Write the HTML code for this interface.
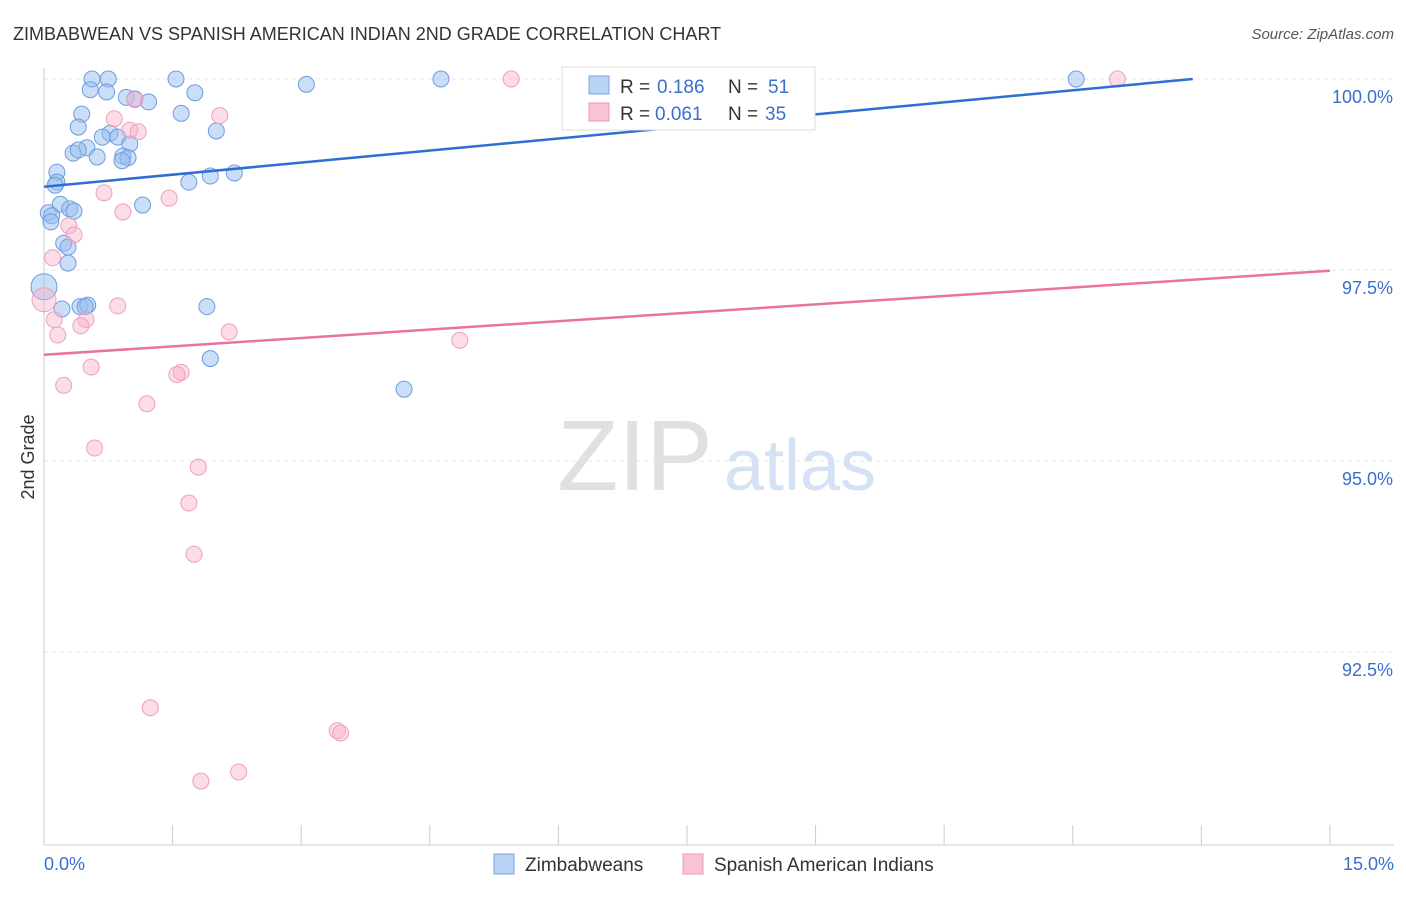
<!DOCTYPE html>
<html><head><meta charset="utf-8"><style>
body{margin:0;background:#fff;font-family:"Liberation Sans",sans-serif;}
svg text{font-family:"Liberation Sans",sans-serif;}
</style></head><body>
<svg id="c" width="1406" height="892" xmlns="http://www.w3.org/2000/svg">
<text x="13" y="40" font-size="18" fill="#333">ZIMBABWEAN VS SPANISH AMERICAN INDIAN 2ND GRADE CORRELATION CHART</text>
<text x="1394" y="39" font-size="15" fill="#555" text-anchor="end" font-style="italic">Source: ZipAtlas.com</text>
<text x="635" y="490" font-size="100" fill="#e0e0e0" font-family="Liberation Serif" text-anchor="middle">ZIP</text>
<text x="800" y="490" font-size="72" fill="#d4e2f4" text-anchor="middle">atlas</text>
<g id="grid"></g><g id="axes"></g><g id="pts"></g><g id="trend"></g>
<text x="34" y="457" font-size="18" fill="#333" text-anchor="middle" transform="rotate(-90 34 457)">2nd Grade</text>
<g>
<rect x="562" y="67" width="253" height="63" fill="#fff" stroke="#ddd"/>
<rect x="589" y="76" width="20" height="18" fill="#b9d3f5" stroke="#7aa6e2"/>
<rect x="589" y="103" width="20" height="18" fill="#f9c3d3" stroke="#ec9ab5"/>
<text x="620" y="93" font-size="19" fill="#333">R =</text>
<text x="657" y="93" font-size="19" fill="#3a6fd0">0.186</text>
<text x="728" y="93" font-size="19" fill="#333">N =</text>
<text x="768" y="93" font-size="19" fill="#3a6fd0">51</text>
<text x="620" y="120" font-size="19" fill="#333">R =</text>
<text x="655" y="120" font-size="19" fill="#3a6fd0">0.061</text>
<text x="728" y="120" font-size="19" fill="#333">N =</text>
<text x="765" y="120" font-size="19" fill="#3a6fd0">35</text>
</g>
<g>
<rect x="494" y="854" width="20" height="20" fill="#b9d3f5" stroke="#7aa6e2"/>
<text x="525" y="871" font-size="19" fill="#333">Zimbabweans</text>
<rect x="683" y="854" width="20" height="20" fill="#f9c3d3" stroke="#ec9ab5"/>
<text x="714" y="871" font-size="19" fill="#333">Spanish American Indians</text>
</g>
</svg>
<script>
const blueX=[0.56,0.75,1.54,3.06,4.63,12.04,0.54,0.73,1.76,0.96,1.06,1.22,0.44,1.60,0.40,2.01,0.77,0.68,0.86,1.00,0.50,0.34,0.40,0.62,0.92,0.98,0.91,0.15,2.22,1.94,0.15,0.13,1.69,1.15,0.19,0.30,0.35,0.05,0.09,0.08,0.23,0.28,0.28,0.0,0.21,0.42,0.51,1.90,1.94,4.20,0.48];
const blueY=[100,100,100,99.93,100,100,99.86,99.83,99.82,99.76,99.74,99.70,99.54,99.55,99.37,99.32,99.29,99.24,99.24,99.15,99.10,99.03,99.07,98.98,98.99,98.97,98.93,98.78,98.77,98.73,98.65,98.61,98.65,98.35,98.36,98.30,98.27,98.25,98.21,98.13,97.85,97.80,97.59,97.28,96.99,97.02,97.04,97.02,96.34,95.94,97.02];
const pinkX=[5.45,12.52,1.06,2.05,0.82,1.00,1.10,0.70,1.46,0.92,0.29,0.35,0.10,0,0.12,0.86,0.49,0.43,0.16,2.16,4.85,0.55,1.60,1.55,0.23,1.20,0.59,1.80,1.69,1.75,1.24,3.42,3.46,2.27,1.83];
const pinkY=[100,100,99.73,99.52,99.48,99.33,99.31,98.51,98.44,98.26,98.08,97.96,97.66,97.11,96.85,97.03,96.85,96.77,96.65,96.69,96.58,96.23,96.16,96.13,95.99,95.75,95.17,94.92,94.45,93.78,91.77,91.47,91.44,90.93,90.81];
const blueTrend=[[0,98.59],[13.4,100]];
const pinkTrend=[[0,96.39],[15,97.49]];
const yTicks=[100,97.5,95,92.5];
const yTickLabels=["100.0%","97.5%","95.0%","92.5%"];
const xTicks=[0,1.5,3,4.5,6,7.5,9,10.5,12,13.5,15];
const sx=v=>44+v*85.73, sy=v=>79+(100-v)*76.4;
const NS="http://www.w3.org/2000/svg";
function mk(p,t,a){const e=document.createElementNS(NS,t);for(const k in a)e.setAttribute(k,a[k]);document.getElementById(p).appendChild(e);return e;}
yTicks.forEach((v,i)=>{
 const l=mk('grid','line',{x1:44,x2:1394,y1:sy(v),y2:sy(v),stroke:'#e4e4e4','stroke-dasharray':'4,4'});
 
 
 const t=mk('grid','text',{x:1393,y:sy(v)+24,'font-size':18,fill:'#3a6fd0','text-anchor':'end'});t.textContent=yTickLabels[i];
 
 
});
const ax=mk('axes','line',{x1:44,x2:44,y1:68,y2:845,stroke:'#ccc'});


const bx=mk('axes','line',{x1:44,x2:1394,y1:845,y2:845,stroke:'#ccc'});


xTicks.forEach(v=>{const t=mk('axes','line',{x1:sx(v),x2:sx(v),y1:825,y2:845,stroke:'#ccc'});
 
 });
const x0=mk('axes','text',{x:44,y:870,'font-size':18,fill:'#3a6fd0'});x0.textContent='0.0%';


const x1=mk('axes','text',{x:1394,y:870,'font-size':18,fill:'#3a6fd0','text-anchor':'end'});x1.textContent='15.0%';


blueX.forEach((x,i)=>{const c=mk('pts','circle',{cx:sx(x),cy:sy(blueY[i]),r:(x===0?13:8),fill:'rgba(150,190,240,0.5)',stroke:'#6d9de0','stroke-width':1});
 
 });
pinkX.forEach((x,i)=>{const c=mk('pts','circle',{cx:sx(x),cy:sy(pinkY[i]),r:(x===0?12:8),fill:'rgba(248,180,202,0.45)',stroke:'#eea0ba','stroke-width':1});
 
 });
const bt=mk('trend','line',{x1:sx(blueTrend[0][0]),y1:sy(blueTrend[0][1]),x2:sx(blueTrend[1][0]),y2:sy(blueTrend[1][1]),stroke:'#2f6fd3','stroke-width':2.5});


const pt=mk('trend','line',{x1:sx(pinkTrend[0][0]),y1:sy(pinkTrend[0][1]),x2:sx(pinkTrend[1][0]),y2:sy(pinkTrend[1][1]),stroke:'#e8739c','stroke-width':2.5});


</script>
</body></html>
